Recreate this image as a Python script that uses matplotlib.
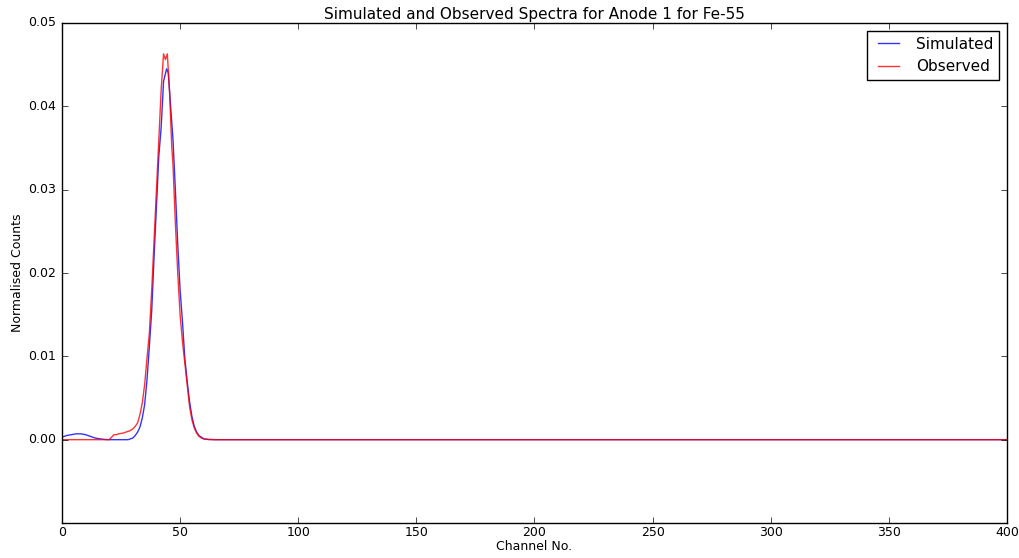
import matplotlib
matplotlib.use("Agg")
import matplotlib.pyplot as plt

plt.style.use("classic")

# Simulated spectrum (channel, normalised counts)
sim_channel = [0, 2, 4, 6, 8, 10, 12, 14, 16, 18, 20, 28, 29, 30, 31, 32, 33, 34, 35,
               36, 37, 38, 39, 40, 41, 42, 43, 44.3, 45, 46, 47, 48, 49, 50, 51, 52,
               53, 54, 55, 56, 57, 58, 59, 60, 62, 65, 400]
sim_counts = [0.0003, 0.0005, 0.0006, 0.0007, 0.0007, 0.0006, 0.0004, 0.0002, 0.0001,
              0.00003, 0.0, 0.0, 0.0001, 0.0002, 0.0005, 0.0009, 0.0015, 0.0026, 0.0042,
              0.0072, 0.0112, 0.0155, 0.022, 0.028, 0.034, 0.0375, 0.043, 0.0445, 0.044,
              0.040, 0.036, 0.030, 0.0235, 0.018, 0.0142, 0.0098, 0.007, 0.0046, 0.0028,
              0.0016, 0.0009, 0.0005, 0.0003, 0.0001, 0.00003, 0.0, 0.0]

# Observed spectrum (channel, normalised counts)
obs_channel = [0, 20, 21, 22, 23, 24, 26, 28, 29, 30, 31, 32, 33, 34, 35, 36, 37, 38,
               39, 40, 41, 42, 43, 43.8, 44.6, 45.5, 46.5, 47, 48, 49, 50, 51, 52, 53,
               54, 55, 56, 57, 58, 59, 60, 62, 65, 400]
obs_counts = [0.0, 0.0, 0.0003, 0.0006, 0.0006, 0.0007, 0.0008, 0.001, 0.0011, 0.0013,
              0.0016, 0.0020, 0.0030, 0.0044, 0.0066, 0.0098, 0.0128, 0.018, 0.024,
              0.030, 0.036, 0.042, 0.0463, 0.0456, 0.0463, 0.042, 0.035, 0.033, 0.026,
              0.020, 0.015, 0.0118, 0.0092, 0.0066, 0.0040, 0.0024, 0.0014, 0.0008,
              0.0004, 0.0002, 0.0001, 0.00002, 0.0, 0.0]

x_ticks = [0, 50, 100, 150, 200, 250, 300, 350, 400]
y_ticks = [0.00, 0.01, 0.02, 0.03, 0.04, 0.05]

fig = plt.figure(figsize=(10.19, 5.58), dpi=100, facecolor="white")
ax = fig.add_axes([0.0608, 0.0627, 0.9274, 0.8961])
ax.set_facecolor("white")

ax.plot(sim_channel, sim_counts, color="blue", lw=1.0, alpha=0.8, label="Simulated")
ax.plot(obs_channel, obs_counts, color="red", lw=1.0, alpha=0.8, label="Observed")

ax.set_xlim(0, 400)
ax.set_ylim(-0.01, 0.05)
ax.set_xticks(x_ticks)
ax.set_yticks(y_ticks)
ax.set_yticklabels([f"{v:.2f}" for v in y_ticks])
ax.tick_params(axis="x", labelsize=9, pad=2)
ax.tick_params(axis="y", labelsize=9, pad=4)

ax.set_xlabel("Channel No.", fontsize=9, labelpad=1)
ax.set_ylabel("Normalised Counts", fontsize=9, labelpad=3)
ax.set_title("Simulated and Observed Spectra for Anode 1 for Fe-55", fontsize=11, pad=3)

leg = ax.legend(loc="upper right", fontsize=11, fancybox=False, frameon=True)
leg.get_frame().set_edgecolor("black")

fig.savefig("out.png", dpi=100, facecolor="white")
